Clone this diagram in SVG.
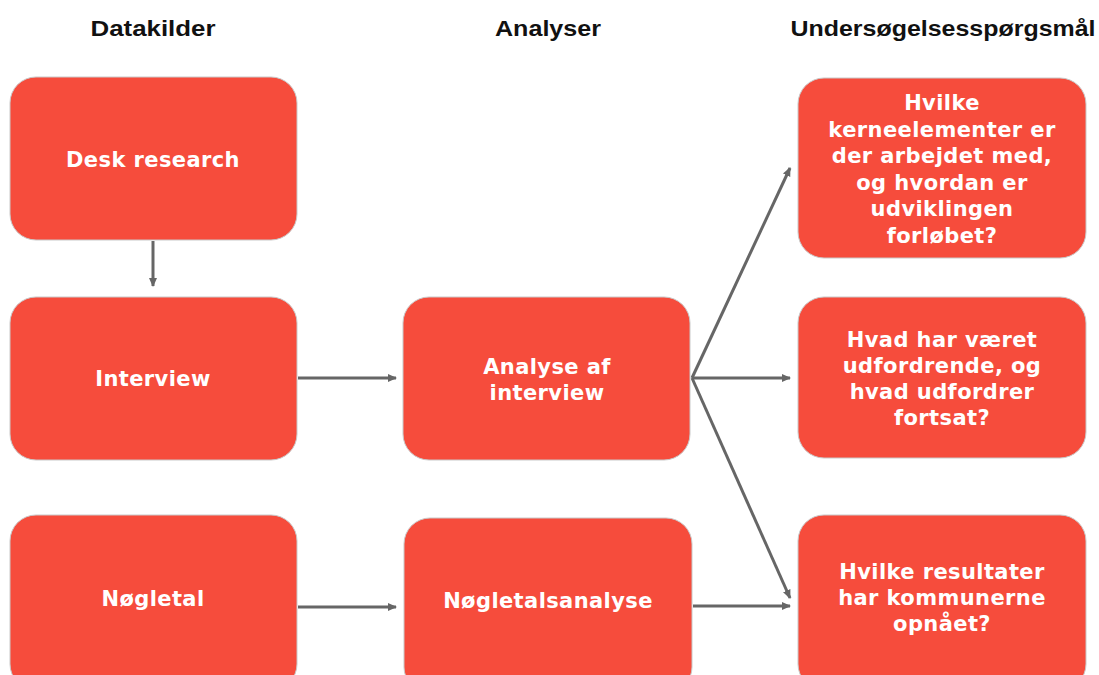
<svg xmlns="http://www.w3.org/2000/svg" width="1099" height="675" viewBox="0 0 1099 675">
<style>
.box{fill:#F64C3C;stroke:#c9c9c9;stroke-width:1}
.t{font-family:"DejaVu Sans",Verdana,sans-serif;font-weight:bold;font-size:21px;letter-spacing:0.4px;fill:#fff;text-anchor:middle}
.h{font-family:"Liberation Sans",Arial,sans-serif;font-weight:bold;font-size:22px;fill:#111;text-anchor:middle}
.c{stroke:#666;stroke-width:3;fill:none;marker-end:url(#a)}
</style>
<defs>
<marker id="a" markerWidth="10" markerHeight="10" refX="8" refY="5" orient="auto" markerUnits="userSpaceOnUse">
<path d="M0,1 L9,5 L0,9 Z" fill="#666"/>
</marker>
</defs>
<g id="headers">
<text class="h" x="153" y="36" textLength="125" lengthAdjust="spacingAndGlyphs">Datakilder</text>
<text class="h" x="548" y="36" textLength="106" lengthAdjust="spacingAndGlyphs">Analyser</text>
<text class="h" x="943" y="36" textLength="305" lengthAdjust="spacingAndGlyphs">Undersøgelsesspørgsmål</text>
</g>
<g id="connectors">
<line class="c" x1="153" y1="241" x2="153" y2="286"/>
<line class="c" x1="298" y1="378" x2="396" y2="378"/>
<line class="c" x1="692" y1="378" x2="790" y2="168"/>
<line class="c" x1="692" y1="378" x2="790" y2="378"/>
<line class="c" x1="692" y1="378" x2="790" y2="598"/>
<line class="c" x1="298" y1="607" x2="396" y2="607"/>
<line class="c" x1="693" y1="606" x2="790" y2="606"/>
</g>
<g id="desk"><rect class="box" x="10" y="77" width="287" height="163" rx="26"/><text class="t" x="153" y="167">Desk research</text></g>
<g id="interview"><rect class="box" x="10" y="297" width="287" height="163" rx="26"/><text class="t" x="153" y="386">Interview</text></g>
<g id="noegletal"><rect class="box" x="10" y="515" width="287" height="175" rx="26"/><text class="t" x="153" y="606">Nøgletal</text></g>
<g id="analyse"><rect class="box" x="403" y="297" width="287" height="163" rx="26"/><text class="t" x="547" y="374">Analyse af</text><text class="t" x="547" y="400">interview</text></g>
<g id="noegletalsanalyse"><rect class="box" x="404" y="518" width="288" height="175" rx="26"/><text class="t" x="548" y="608">Nøgletalsanalyse</text></g>
<g id="q1"><rect class="box" x="798" y="78" width="288" height="180" rx="26"/>
<text class="t" x="942" y="110">Hvilke</text>
<text class="t" x="942" y="137">kerneelementer er</text>
<text class="t" x="942" y="163">der arbejdet med,</text>
<text class="t" x="942" y="190">og hvordan er</text>
<text class="t" x="942" y="216">udviklingen</text>
<text class="t" x="942" y="243">forløbet?</text></g>
<g id="q2"><rect class="box" x="798" y="297" width="288" height="161" rx="26"/>
<text class="t" x="942" y="347">Hvad har været</text>
<text class="t" x="942" y="373">udfordrende, og</text>
<text class="t" x="942" y="399">hvad udfordrer</text>
<text class="t" x="942" y="425">fortsat?</text></g>
<g id="q3"><rect class="box" x="798" y="515" width="288" height="175" rx="26"/>
<text class="t" x="942" y="579">Hvilke resultater</text>
<text class="t" x="942" y="605">har kommunerne</text>
<text class="t" x="942" y="631">opnået?</text></g>
</svg>
